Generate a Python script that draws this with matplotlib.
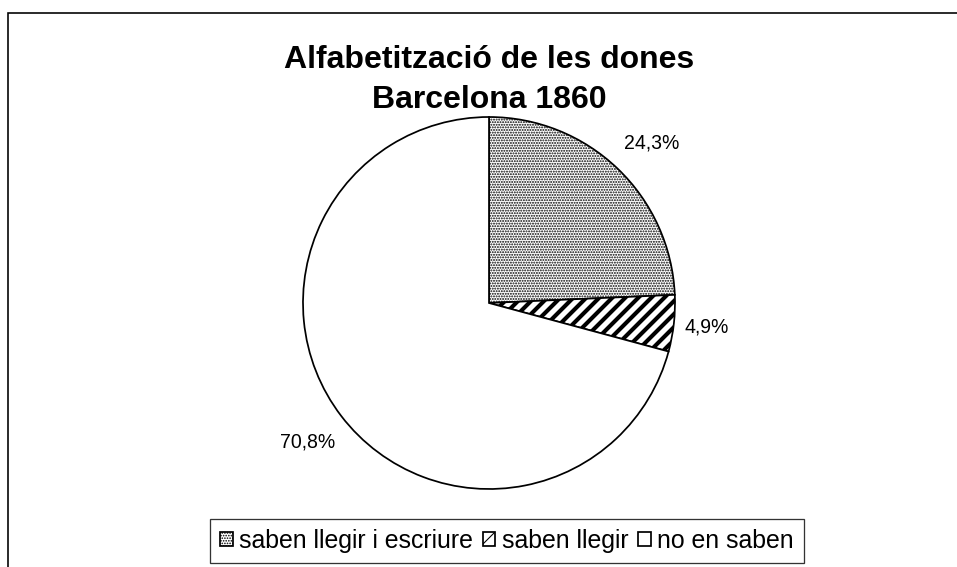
import matplotlib
matplotlib.use('Agg')
import matplotlib.pyplot as plt
from matplotlib.patches import Rectangle
import numpy as np

# data
categories = ['saben llegir i escriure', 'saben llegir', 'no en saben']
values = [24.3, 4.9, 70.8]
value_labels = ['24,3%', '4,9%', '70,8%']
title = 'Alfabetització de les dones\nBarcelona 1860'

# styling per slice
hatches = ['.....', '//', '']
hatch_lw = [1.2, 3.8, 1.0]
label_dist = [1.19, 1.18, 1.23]

plt.rcParams['font.family'] = ['Liberation Sans Narrow', 'Liberation Sans', 'DejaVu Sans']

DPI = 78
W, H = 957, 567
fig = plt.figure(figsize=(W / DPI, H / DPI), dpi=DPI)
fig.patch.set_facecolor('white')

# outer chart frame (cut off at right and bottom)
fig.add_artist(Rectangle((7.5 / W, -0.1), 1.2, 1.1 - 12.5 / H, transform=fig.transFigure,
                         fill=False, edgecolor='black', linewidth=1.5))

cx, cy, r = 489, 303, 186
ax = fig.add_axes([(cx - r) / W, (H - cy - r) / H, 2 * r / W, 2 * r / H])
wedges, _ = ax.pie(values, startangle=90, counterclock=False,
                   colors=['white'] * 3,
                   wedgeprops=dict(edgecolor='black', linewidth=1.6))
for w, h, lw in zip(wedges, hatches, hatch_lw):
    w.set_hatch(h)
    if hasattr(w, 'set_hatch_linewidth'):
        w.set_hatch_linewidth(lw)
ax.set_xlim(-1, 1)
ax.set_ylim(-1, 1)

for w, lab, d in zip(wedges, value_labels, label_dist):
    mid = np.deg2rad((w.theta1 + w.theta2) / 2)
    ax.text(d * np.cos(mid) + 0.05 * (lab == '24,3%'), d * np.sin(mid), lab,
            fontsize=18, ha='center', va='center', clip_on=False)

fig.text(cx / W, 1 - 80 / H, title, ha='center', va='center', fontsize=29.5,
         fontweight='bold', linespacing=1.45)

leg = fig.legend(wedges, categories, loc='lower center',
                 bbox_to_anchor=(507 / W, 4 / H), ncol=3, fontsize=23,
                 frameon=True, fancybox=False, edgecolor='black',
                 handlelength=0.5, handleheight=0.5, handletextpad=0.25,
                 columnspacing=0.4, borderpad=0.4, borderaxespad=0)
leg.get_frame().set_linewidth(1.2)

fig.savefig('out.png', dpi=DPI)
